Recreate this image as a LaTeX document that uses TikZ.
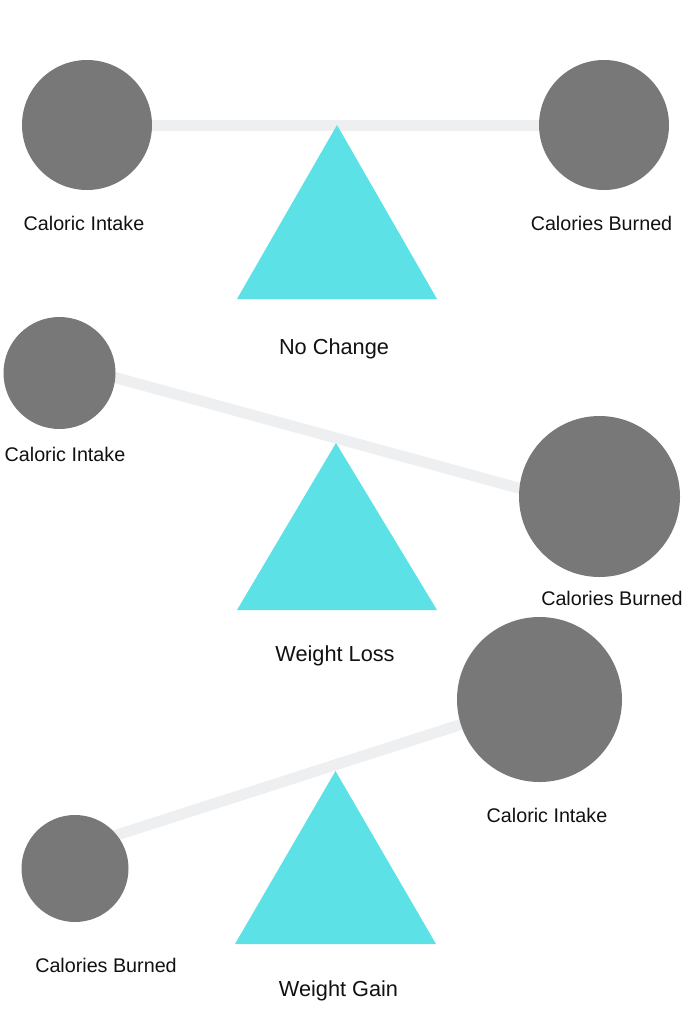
\documentclass[tikz,border=0pt]{standalone}
\usepackage{fontspec}
\setmainfont{Liberation Sans}
\usetikzlibrary{backgrounds}
\definecolor{ballgray}{HTML}{787878}
\definecolor{fulcrum}{HTML}{5CE1E6}
\definecolor{beamgray}{HTML}{EEEFF0}
\definecolor{txt}{HTML}{111111}
\tikzset{
  ball/.style={circle, fill=ballgray, inner sep=0pt, draw=none},
  beam/.style={draw=beamgray, line width=8.25pt},
  tri/.style={fill=fulcrum, draw=none},
  lbl/.style={anchor=base, inner sep=0pt, text=txt, font=\fontsize{14.8pt}{17pt}\selectfont},
  ttl/.style={anchor=base, inner sep=0pt, text=txt, font=\fontsize{16.3pt}{19pt}\selectfont}
}
\begin{document}
\begin{tikzpicture}[x=0.75pt,y=-0.75pt]
\useasboundingbox (0,0) rectangle (683,1024);
% Panel 1: No Change
\node[ball, minimum size=97.5pt] (ci1) at (87,125) {};
\node[ball, minimum size=97.5pt] (cb1) at (604,125) {};
\begin{scope}[on background layer]
\draw[beam] (ci1.center) -- (cb1.center);
\end{scope}
\fill[tri] (337,125) coordinate (t1) -- (437,299) -- (237,299) -- cycle;
\node[lbl] (l1a) at (84,230) {Caloric Intake};
\node[lbl] (l1b) at (601.5,230) {Calories Burned};
\node[ttl] (n1) at (334,354) {No Change};
% Panel 2: Weight Loss
\node[ball, minimum size=84pt] (ci2) at (59.5,373) {};
\node[ball, minimum size=120.75pt] (cb2) at (599.5,496.5) {};
\coordinate (b2a) at (59.5,362.3);
\coordinate (b2b) at (599.5,510.2);
\fill[tri] (336,443) coordinate (t2) -- (437,610) -- (237,610) -- cycle;
\begin{scope}[on background layer]
\draw[beam] (b2a) -- (b2b);
\end{scope}
\node[lbl] (l2a) at (65,461) {Caloric Intake};
\node[lbl] (l2b) at (612,605) {Calories Burned};
\node[ttl] (n2) at (335,661) {Weight Loss};
% Panel 3: Weight Gain
\node[ball, minimum size=123.75pt] (ci3) at (539.5,699.5) {};
\node[ball, minimum size=80.25pt] (cb3) at (75,868.5) {};
\coordinate (b3a) at (75,848.4);
\coordinate (b3b) at (539.5,699.3);
\fill[tri] (335.5,771) coordinate (t3) -- (436,944) -- (235,944) -- cycle;
\begin{scope}[on background layer]
\draw[beam] (b3a) -- (b3b);
\end{scope}
\node[lbl] (l3a) at (547,822) {Caloric Intake};
\node[lbl] (l3b) at (106,972) {Calories Burned};
\node[ttl] (n3) at (338.5,996) {Weight Gain};
\end{tikzpicture}
\end{document}
